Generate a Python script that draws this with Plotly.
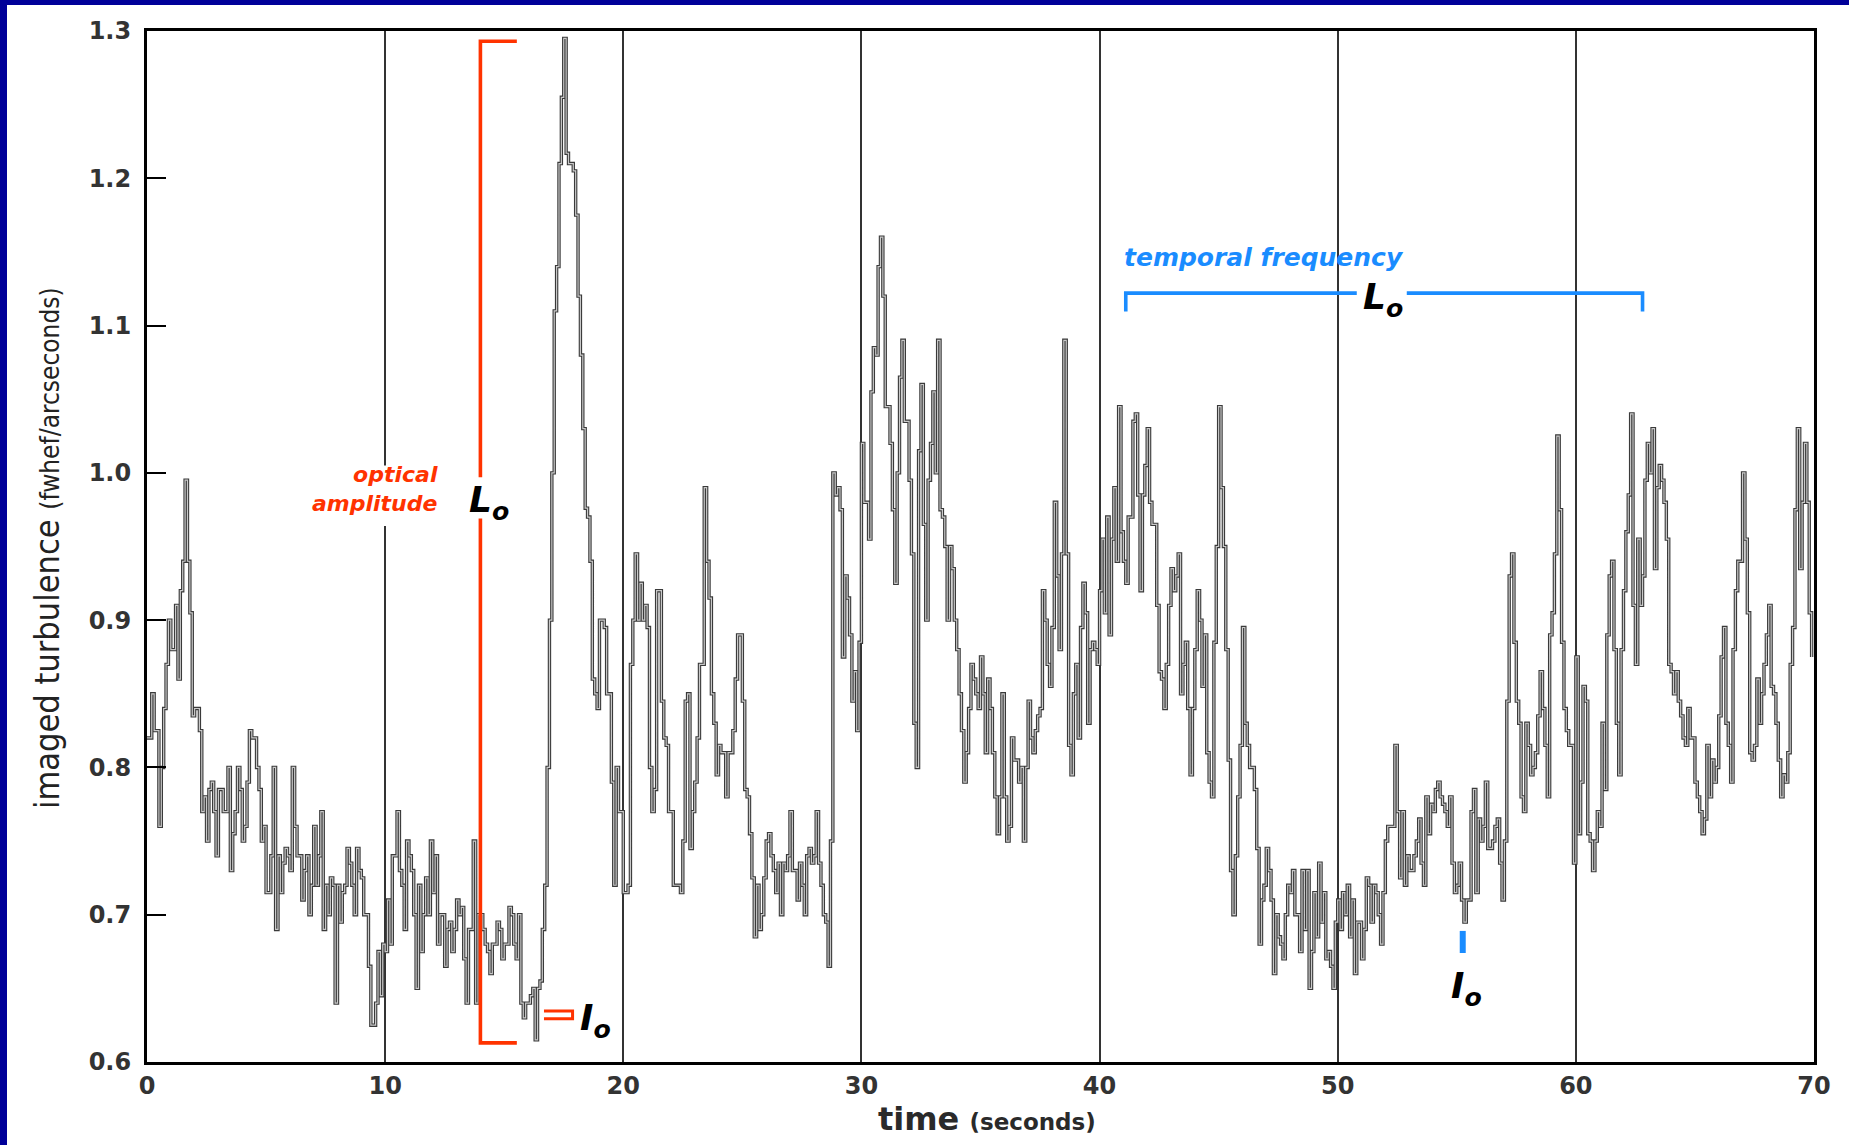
import plotly.graph_objects as go

# ---------------- data (0.1 s samples) ----------------
SAMPLE_STEP_S = 0.1

seeing_00_10 = [
    0.82, 0.82, 0.85, 0.825, 0.825, 0.76, 0.80, 0.84, 0.87, 0.90,
    0.88, 0.88, 0.91, 0.86, 0.92, 0.94, 0.995, 0.94, 0.905, 0.835,
    0.84, 0.84, 0.825, 0.77, 0.78, 0.75, 0.785, 0.79, 0.77, 0.74,
    0.785, 0.785, 0.77, 0.77, 0.80, 0.73, 0.755, 0.77, 0.80, 0.785,
    0.75, 0.76, 0.79, 0.825, 0.82, 0.82, 0.80, 0.785, 0.75, 0.76,
    0.715, 0.715, 0.74, 0.80, 0.69, 0.74, 0.715, 0.735, 0.745, 0.74,
    0.73, 0.80, 0.76, 0.74, 0.74, 0.71, 0.73, 0.74, 0.70, 0.72,
    0.76, 0.72, 0.74, 0.77, 0.69, 0.72, 0.70, 0.725, 0.72, 0.64,
    0.72, 0.695, 0.715, 0.72, 0.745, 0.735, 0.72, 0.70, 0.745, 0.73,
    0.725, 0.70, 0.70, 0.665, 0.625, 0.625, 0.64, 0.675, 0.645, 0.68,
]
seeing_10_20 = [
    0.675, 0.71, 0.68, 0.74, 0.74, 0.77, 0.73, 0.72, 0.69, 0.75,
    0.74, 0.73, 0.70, 0.65, 0.72, 0.675, 0.70, 0.725, 0.70, 0.75,
    0.715, 0.74, 0.68, 0.70, 0.70, 0.665, 0.69, 0.695, 0.675, 0.69,
    0.71, 0.70, 0.705, 0.67, 0.64, 0.69, 0.69, 0.75, 0.64, 0.70,
    0.70, 0.69, 0.68, 0.675, 0.66, 0.68, 0.68, 0.695, 0.69, 0.67,
    0.68, 0.68, 0.705, 0.70, 0.68, 0.67, 0.70, 0.64, 0.63, 0.64,
    0.64, 0.645, 0.65, 0.615, 0.65, 0.655, 0.69, 0.72, 0.80, 0.90,
    1.00, 1.11, 1.14, 1.21, 1.255, 1.295, 1.217, 1.21, 1.21, 1.205,
    1.175, 1.12, 1.08, 1.03, 0.976, 0.97, 0.94, 0.86, 0.85, 0.84,
    0.90, 0.90, 0.895, 0.85, 0.85, 0.79, 0.72, 0.80, 0.77, 0.77,
]
seeing_20_30 = [
    0.715, 0.715, 0.72, 0.87, 0.90, 0.945, 0.90, 0.925, 0.90, 0.91,
    0.895, 0.80, 0.77, 0.785, 0.92, 0.92, 0.845, 0.82, 0.815, 0.77,
    0.77, 0.72, 0.72, 0.72, 0.715, 0.75, 0.845, 0.85, 0.745, 0.77,
    0.79, 0.82, 0.87, 0.87, 0.99, 0.94, 0.915, 0.85, 0.83, 0.795,
    0.815, 0.81, 0.81, 0.78, 0.81, 0.81, 0.825, 0.86, 0.89, 0.89,
    0.845, 0.785, 0.78, 0.755, 0.725, 0.685, 0.72, 0.69, 0.70, 0.725,
    0.75, 0.755, 0.74, 0.73, 0.715, 0.735, 0.70, 0.735, 0.73, 0.74,
    0.77, 0.73, 0.73, 0.71, 0.735, 0.72, 0.70, 0.74, 0.745, 0.735,
    0.74, 0.77, 0.735, 0.72, 0.70, 0.695, 0.665, 0.75, 1.00, 0.985,
    0.99, 0.975, 0.875, 0.93, 0.915, 0.89, 0.845, 0.865, 0.825, 0.885,
]
seeing_30_40 = [
    1.02, 0.98, 0.98, 0.955, 1.055, 1.085, 1.08, 1.14, 1.16, 1.12,
    1.045, 1.045, 1.02, 0.975, 0.925, 1.00, 1.065, 1.09, 1.035, 1.035,
    0.995, 0.945, 0.83, 0.80, 1.015, 1.06, 0.965, 0.90, 0.995, 1.02,
    1.055, 1.00, 1.09, 0.975, 0.97, 0.95, 0.90, 0.95, 0.935, 0.90,
    0.88, 0.85, 0.825, 0.79, 0.81, 0.84, 0.87, 0.86, 0.85, 0.84,
    0.875, 0.85, 0.81, 0.86, 0.84, 0.81, 0.78, 0.755, 0.78, 0.85,
    0.78, 0.75, 0.76, 0.82, 0.805, 0.805, 0.79, 0.80, 0.75, 0.80,
    0.845, 0.82, 0.81, 0.825, 0.835, 0.84, 0.92, 0.90, 0.87, 0.855,
    0.895, 0.98, 0.93, 0.88, 0.945, 1.09, 0.945, 0.815, 0.795, 0.85,
    0.87, 0.82, 0.895, 0.925, 0.905, 0.83, 0.88, 0.885, 0.88, 0.87,
]
seeing_40_50 = [
    0.92, 0.955, 0.905, 0.97, 0.89, 0.955, 0.99, 0.94, 1.045, 0.96,
    0.94, 0.925, 0.97, 0.97, 1.035, 1.04, 0.985, 0.92, 0.985, 1.005,
    1.03, 0.98, 0.965, 0.965, 0.91, 0.865, 0.86, 0.84, 0.87, 0.91,
    0.935, 0.92, 0.93, 0.945, 0.85, 0.87, 0.885, 0.84, 0.795, 0.84,
    0.88, 0.92, 0.90, 0.855, 0.89, 0.81, 0.79, 0.78, 0.885, 0.95,
    1.045, 0.99, 0.95, 0.88, 0.805, 0.73, 0.70, 0.74, 0.78, 0.815,
    0.895, 0.83, 0.815, 0.80, 0.80, 0.785, 0.745, 0.68, 0.71, 0.72,
    0.745, 0.73, 0.71, 0.66, 0.70, 0.685, 0.68, 0.67, 0.70, 0.72,
    0.715, 0.73, 0.70, 0.70, 0.675, 0.73, 0.69, 0.73, 0.65, 0.675,
    0.715, 0.685, 0.735, 0.695, 0.715, 0.67, 0.675, 0.665, 0.65, 0.695,
]
seeing_50_60 = [
    0.71, 0.69, 0.715, 0.70, 0.72, 0.685, 0.71, 0.66, 0.695, 0.695,
    0.67, 0.69, 0.725, 0.72, 0.695, 0.72, 0.715, 0.70, 0.68, 0.715,
    0.75, 0.76, 0.76, 0.76, 0.815, 0.77, 0.725, 0.77, 0.72, 0.74,
    0.73, 0.73, 0.74, 0.75, 0.765, 0.735, 0.72, 0.78, 0.755, 0.775,
    0.77, 0.785, 0.79, 0.78, 0.775, 0.77, 0.76, 0.78, 0.735, 0.715,
    0.72, 0.735, 0.71, 0.695, 0.71, 0.71, 0.77, 0.785, 0.715, 0.765,
    0.75, 0.76, 0.79, 0.745, 0.745, 0.75, 0.76, 0.765, 0.735, 0.71,
    0.75, 0.845, 0.93, 0.945, 0.885, 0.845, 0.83, 0.78, 0.77, 0.83,
    0.815, 0.795, 0.80, 0.81, 0.835, 0.865, 0.84, 0.815, 0.78, 0.89,
    0.905, 0.945, 1.025, 0.975, 0.885, 0.84, 0.825, 0.815, 0.815, 0.735,
]
seeing_60_70 = [
    0.875, 0.755, 0.79, 0.855, 0.845, 0.755, 0.75, 0.73, 0.75, 0.77,
    0.76, 0.83, 0.785, 0.89, 0.93, 0.94, 0.88, 0.83, 0.795, 0.88,
    0.92, 0.96, 0.985, 1.04, 0.91, 0.87, 0.955, 0.91, 0.93, 0.995,
    1.02, 1.00, 1.03, 0.935, 0.99, 1.005, 0.995, 0.98, 0.955, 0.87,
    0.865, 0.85, 0.865, 0.845, 0.835, 0.82, 0.815, 0.84, 0.82, 0.82,
    0.79, 0.78, 0.77, 0.755, 0.765, 0.815, 0.78, 0.805, 0.79, 0.80,
    0.835, 0.875, 0.895, 0.83, 0.815, 0.79, 0.88, 0.92, 0.94, 0.94,
    1.00, 0.955, 0.905, 0.81, 0.805, 0.815, 0.86, 0.83, 0.85, 0.87,
    0.89, 0.91, 0.855, 0.85, 0.83, 0.805, 0.78, 0.795, 0.79, 0.81,
    0.87, 0.895, 0.975, 1.03, 0.935, 0.98, 1.02, 0.98, 0.905, 0.875,
]

x_tick_values = [0, 10, 20, 30, 40, 50, 60, 70]
x_tick_labels = ["0", "10", "20", "30", "40", "50", "60", "70"]
y_tick_values = [0.6, 0.7, 0.8, 0.9, 1.0, 1.1, 1.2, 1.3]
y_tick_labels = ["0.6", "0.7", "0.8", "0.9", "1.0", "1.1", "1.2", "1.3"]

turbulence = (seeing_00_10 + seeing_10_20 + seeing_20_30 + seeing_30_40
              + seeing_40_50 + seeing_50_60 + seeing_60_70)
time_s = [round(i * SAMPLE_STEP_S, 1) for i in range(len(turbulence))]

# ---------------- styling ----------------
RED = "#ff3300"
BLUE = "#1a8cff"
FRAME_BLUE = "#000099"
TICK_FONT = dict(family="DejaVu Sans", size=24, color="#333333", weight="bold")
NOTE_FONT = "DejaVu Sans"

W, H = 1849, 1145
ML, MR, MT, MB = 147, 35, 31, 83
PW, PH = W - ML - MR, H - MT - MB


def px_x(px):
    return (px - ML) / PW


def px_y(py):
    return (H - MB - py) / PH


fig = go.Figure()

# outlined step trace: dark outline + light core
fig.add_trace(go.Scatter(
    x=time_s, y=turbulence, mode="lines", line_shape="hv",
    line=dict(color="#3a3a3a", width=3.4), hoverinfo="skip", showlegend=False))
fig.add_trace(go.Scatter(
    x=time_s, y=turbulence, mode="lines", line_shape="hv",
    line=dict(color="#c9c9c9", width=1.2), hoverinfo="skip", showlegend=False))

shapes = []
# blue page frame strips (left and top)
shapes.append(dict(type="rect", xref="paper", yref="paper",
                   x0=px_x(0), x1=px_x(7), y0=px_y(H), y1=px_y(0),
                   fillcolor=FRAME_BLUE, line=dict(width=0), layer="below"))
shapes.append(dict(type="rect", xref="paper", yref="paper",
                   x0=px_x(0), x1=px_x(W), y0=px_y(5), y1=px_y(0),
                   fillcolor=FRAME_BLUE, line=dict(width=0), layer="below"))

# white patch behind the "optical amplitude" label (breaks the grid line)
shapes.append(dict(type="rect", xref="x", yref="y",
                   x0=6.6, x1=12.4, y0=0.964, y1=1.005,
                   fillcolor="white", line=dict(width=0), layer="above"))

# optical amplitude bracket (red)
amp_t, amp_arm_t, amp_top, amp_bot = 14.0, 15.53, 1.293, 0.613
amp_gap_lo, amp_gap_hi = 0.969, 0.997
shapes.append(dict(type="path", xref="x", yref="y",
                   path=f"M {amp_arm_t},{amp_top} L {amp_t},{amp_top} L {amp_t},{amp_gap_hi}",
                   line=dict(color=RED, width=3.6)))
shapes.append(dict(type="path", xref="x", yref="y",
                   path=f"M {amp_t},{amp_gap_lo} L {amp_t},{amp_bot} L {amp_arm_t},{amp_bot}",
                   line=dict(color=RED, width=3.6)))
# small red I_o bracket
io_t0, io_t1, io_hi, io_lo = 16.67, 17.87, 0.6347, 0.6293
shapes.append(dict(type="path", xref="x", yref="y",
                   path=f"M {io_t0},{io_hi} L {io_t1},{io_hi} L {io_t1},{io_lo} L {io_t0},{io_lo}",
                   line=dict(color=RED, width=3)))

# temporal frequency bracket (blue)
tf_t0, tf_t1, tf_y, tf_end = 41.1, 62.8, 1.122, 1.1095
tf_gap0, tf_gap1 = 50.8, 52.9
shapes.append(dict(type="path", xref="x", yref="y",
                   path=f"M {tf_t0},{tf_end} L {tf_t0},{tf_y} L {tf_gap0},{tf_y}",
                   line=dict(color=BLUE, width=3.6)))
shapes.append(dict(type="path", xref="x", yref="y",
                   path=f"M {tf_gap1},{tf_y} L {tf_t1},{tf_y} L {tf_t1},{tf_end}",
                   line=dict(color=BLUE, width=3.6)))
# small blue I_o marker
shapes.append(dict(type="line", xref="x", yref="y",
                   x0=55.25, x1=55.25, y0=0.674, y1=0.689,
                   line=dict(color=BLUE, width=6)))

LO_TEXT = "<b><i>L</i></b><sub><b><i>o</i></b></sub>"
IO_TEXT = "<b><i>I</i></b><sub><b><i>o</i></b></sub>"

annotations = [
    dict(x=12.3, y=0.989, xref="x", yref="y", xanchor="right", yanchor="middle",
         align="right", text="<b><i>optical<br>amplitude</i></b>", showarrow=False,
         font=dict(family=NOTE_FONT, size=22, color=RED)),
    dict(x=14.35, y=0.980, xref="x", yref="y", xanchor="center", yanchor="middle",
         text=LO_TEXT, showarrow=False,
         font=dict(family=NOTE_FONT, size=36, color="black")),
    dict(x=18.85, y=0.628, xref="x", yref="y", xanchor="center", yanchor="middle",
         text=IO_TEXT, showarrow=False,
         font=dict(family=NOTE_FONT, size=36, color="black")),
    dict(x=40.95, y=1.146, xref="x", yref="y", xanchor="left", yanchor="middle",
         text="<b><i>temporal frequency</i></b>", showarrow=False,
         font=dict(family=NOTE_FONT, size=25, color=BLUE)),
    dict(x=51.9, y=1.118, xref="x", yref="y", xanchor="center", yanchor="middle",
         text=LO_TEXT, showarrow=False,
         font=dict(family=NOTE_FONT, size=36, color="black")),
    dict(x=55.4, y=0.650, xref="x", yref="y", xanchor="center", yanchor="middle",
         text=IO_TEXT, showarrow=False,
         font=dict(family=NOTE_FONT, size=36, color="black")),
    # axis titles
    dict(x=px_x(987), y=px_y(1119), xref="paper", yref="paper",
         xanchor="center", yanchor="middle", showarrow=False,
         text="<b>time</b> <span style='font-size:23px'><b>(seconds)</b></span>",
         font=dict(family="DejaVu Sans", size=32, color="#2a2a2a")),
    dict(x=px_x(47), y=px_y(548), xref="paper", yref="paper",
         xanchor="center", yanchor="middle", showarrow=False, textangle=-90,
         text="imaged turbulence <span style='font-size:26px'>(fwhef/arcseconds)</span>",
         font=dict(family="DejaVu Sans Condensed, Liberation Sans Narrow, Liberation Sans, sans-serif",
                   size=34, color="#222222")),
]

fig.update_layout(
    width=W, height=H, autosize=False,
    margin=dict(l=ML, r=MR, t=MT, b=MB, pad=0),
    paper_bgcolor="white", plot_bgcolor="white",
    showlegend=False, hovermode=False,
    shapes=shapes, annotations=annotations,
    xaxis=dict(range=[0, 70], tickvals=x_tick_values, ticktext=x_tick_labels,
               showgrid=True, gridcolor="#333333", gridwidth=1.6,
               showline=True, linecolor="black", linewidth=3, mirror=True,
               ticks="", zeroline=False, tickfont=TICK_FONT),
    yaxis=dict(range=[0.6, 1.3], tickvals=y_tick_values, ticktext=y_tick_labels,
               showgrid=False, showline=True, linecolor="black", linewidth=3,
               mirror=True, ticks="inside", ticklen=19, tickwidth=2,
               tickcolor="black", zeroline=False, tickfont=TICK_FONT,
               ticklabelstandoff=8),
)

fig.write_html("out.html")
